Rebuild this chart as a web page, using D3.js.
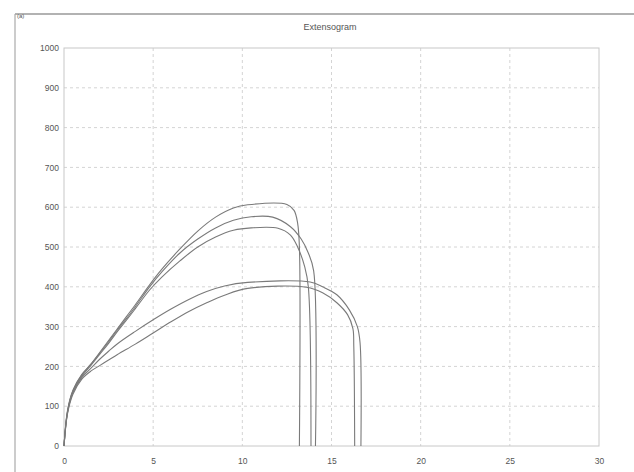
<!DOCTYPE html>
<html>
<head>
<meta charset="utf-8">
<script src="https://d3js.org/d3.v7.min.js"></script>
<style>
	body { margin: 0; background: #fff; }
	text { font-family: "Liberation Sans", Arial, sans-serif; fill: #555; }
</style>
</head>
<body>
<div id="graph"></div>
<script>
//extension (mm) vs force for five dough samples
var curveA = [[0,0],[0.2,90],[0.5,140],[1,180],[1.5,205],[2,235],[2.5,265],[3,295],[3.5,325],[4,355],[4.8,405],[5.5,445],[6.5,495],[7.5,540],[8.5,575],[9.5,598],[10.3,606],[12.5,607],[12.9,592],[13.1,560],[13.2,500],[13.2,0]];
var curveB = [[0,0],[0.2,88],[0.5,138],[1,178],[1.5,205],[2,233],[2.5,262],[3,292],[3.5,320],[4,350],[4.8,400],[5.5,438],[6.5,485],[7.5,520],[8.5,548],[9.5,567],[10.5,576],[11.7,575],[12.7,551],[13.3,520],[13.7,485],[14.0,440],[14.1,0]];
var curveC = [[0,0],[0.2,85],[0.5,135],[1,175],[1.5,202],[2,230],[2.5,258],[3,288],[3.5,316],[4,345],[4.8,392],[5.5,425],[6.5,465],[7.5,500],[8.5,525],[9.5,542],[10.5,548],[12,547],[12.7,530],[13.1,500],[13.5,450],[13.7,400],[13.85,0]];
var curveD = [[0,0],[0.2,85],[0.5,135],[1,172],[1.5,195],[2,218],[2.5,238],[3,257],[4,288],[5,317],[6,344],[7,368],[8,388],[9,402],[10.3,411],[13.8,412],[14.5,400],[15.3,380],[16,342],[16.45,300],[16.6,260],[16.65,0]];
var curveE = [[0,0],[0.2,82],[0.5,130],[1,168],[1.5,188],[2,202],[2.5,216],[3,230],[4,256],[5,284],[6,312],[7,338],[8,360],[9,379],[10.3,396],[13.6,399],[14.5,385],[15.3,360],[15.9,330],[16.2,295],[16.25,250],[16.3,0]];
var curves = [curveA, curveB, curveC, curveD, curveE];

var xTicks = [0, 5, 10, 15, 20, 25, 30];
var yTicks = [0, 100, 200, 300, 400, 500, 600, 700, 800, 900, 1000];
var title = "Extensogram";
var panelLabel = "(a)";

//size of the picture and the plot box
var width = 634,
	height = 472,
	plotLeft = 64,
	plotRight = 599,
	plotTop = 48,
	plotBottom = 446;

var svg = d3.select("#graph").append("svg")
	.attr("width", width)
	.attr("height", height);

var x = d3.scaleLinear().domain([0, 30]).range([plotLeft, plotRight]);
var y = d3.scaleLinear().domain([0, 1000]).range([plotBottom, plotTop]);

//outer frame of the scanned figure
svg.append("line")
	.attr("x1", 15).attr("x2", width)
	.attr("y1", 14).attr("y2", 14)
	.attr("stroke", "#999").attr("stroke-width", 1.5);
svg.append("line")
	.attr("x1", 15).attr("x2", 15)
	.attr("y1", 14).attr("y2", height)
	.attr("stroke", "#aaa").attr("stroke-width", 1.2);
svg.append("text")
	.attr("x", 17).attr("y", 18)
	.attr("font-size", 6)
	.text(panelLabel);

svg.append("text")
	.attr("x", 330).attr("y", 30)
	.attr("text-anchor", "middle")
	.attr("font-size", 9)
	.text(title);

//dashed grid
svg.append("g")
	.selectAll("line")
	.data(xTicks.slice(1, -1)).enter()
	.append("line")
	.attr("x1", x).attr("x2", x)
	.attr("y1", plotTop).attr("y2", plotBottom)
	.attr("stroke", "#d4d4d4")
	.attr("stroke-dasharray", "3,3");
svg.append("g")
	.selectAll("line")
	.data(yTicks.slice(1, -1)).enter()
	.append("line")
	.attr("x1", plotLeft).attr("x2", plotRight)
	.attr("y1", y).attr("y2", y)
	.attr("stroke", "#d4d4d4")
	.attr("stroke-dasharray", "3,3");

svg.append("rect")
	.attr("x", plotLeft).attr("y", plotTop)
	.attr("width", plotRight - plotLeft).attr("height", plotBottom - plotTop)
	.attr("fill", "none")
	.attr("stroke", "#c8c8c8");

//axes, only the labels are shown
var xAxis = svg.append("g")
	.attr("transform", "translate(0," + plotBottom + ")")
	.call(d3.axisBottom(x).tickValues(xTicks).tickSize(0).tickPadding(12));
var yAxis = svg.append("g")
	.attr("transform", "translate(" + plotLeft + ",0)")
	.call(d3.axisLeft(y).tickValues(yTicks).tickFormat(d3.format("d")).tickSize(0).tickPadding(5));
[xAxis, yAxis].forEach(function(a){
	a.select(".domain").remove();
	a.selectAll("text")
		.attr("font-size", 8.5)
		.attr("font-family", "Liberation Sans, Arial, sans-serif")
		.attr("fill", "#555");
});

var line = d3.line()
	.x(function(d){ return x(d[0]); })
	.y(function(d){ return y(d[1]); })
	.curve(d3.curveCatmullRom.alpha(0.5));

svg.append("g")
	.selectAll("path")
	.data(curves).enter()
	.append("path")
	.attr("d", line)
	.attr("fill", "none")
	.attr("stroke", "#7a7a7a")
	.attr("stroke-width", 1.1);
</script>
</body>
</html>
